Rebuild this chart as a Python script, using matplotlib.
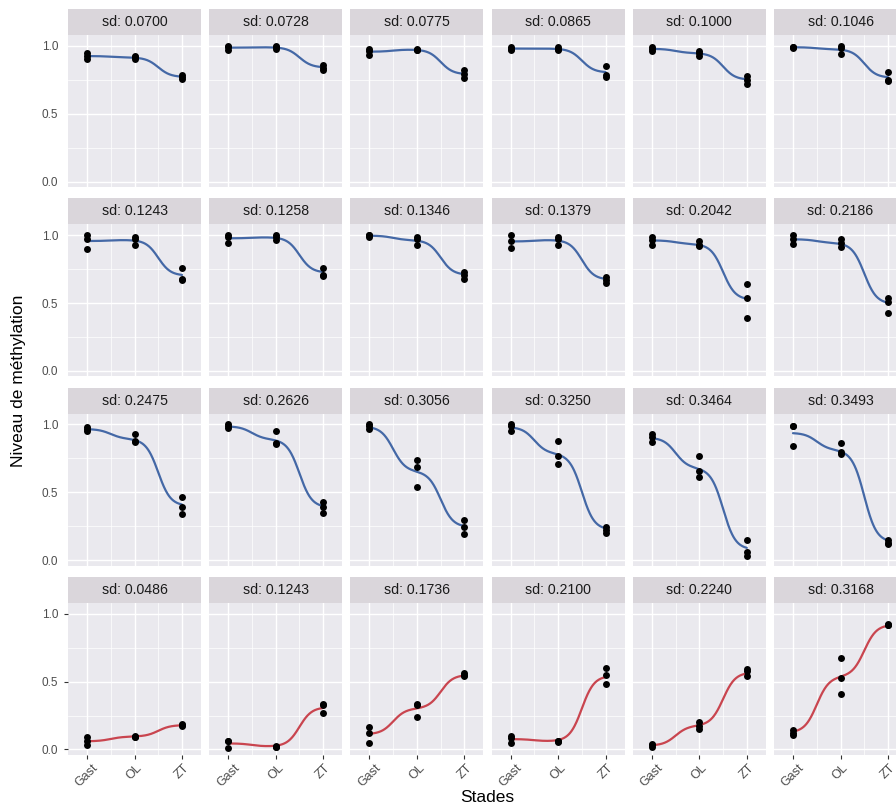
import numpy as np
import matplotlib
matplotlib.use("Agg")
import matplotlib.pyplot as plt
from matplotlib.ticker import FixedLocator

plt.rcParams["font.family"] = ["Liberation Sans", "DejaVu Sans"]

# ---- data ---------------------------------------------------------------
stages = ["Gast", "OL", "ZT"]
stage_pos = [1, 2, 3]

sd_labels = [
    "0.0700", "0.0728", "0.0775", "0.0865", "0.1000", "0.1046",
    "0.1243", "0.1258", "0.1346", "0.1379", "0.2042", "0.2186",
    "0.2475", "0.2626", "0.3056", "0.3250", "0.3464", "0.3493",
    "0.0486", "0.1243", "0.1736", "0.2100", "0.2240", "0.3168",
]

# three replicate methylation levels per stage and per site
gast = [
    [0.945, 0.925, 0.905], [1.00, 0.99, 0.97], [0.98, 0.96, 0.93],
    [0.99, 0.98, 0.97], [0.99, 0.98, 0.965], [0.995, 0.99, 0.985],
    [1.00, 0.975, 0.895], [1.00, 0.99, 0.94], [1.00, 1.00, 0.99],
    [1.00, 0.955, 0.905], [0.99, 0.965, 0.93], [1.00, 0.975, 0.935],
    [0.98, 0.965, 0.955], [1.00, 0.985, 0.975], [1.00, 0.985, 0.97],
    [1.00, 0.99, 0.955], [0.93, 0.91, 0.87], [0.99, 0.985, 0.84],
    [0.09, 0.06, 0.03], [0.065, 0.06, 0.01], [0.165, 0.12, 0.05],
    [0.10, 0.085, 0.045], [0.04, 0.03, 0.015], [0.145, 0.12, 0.105],
]
ol = [
    [0.925, 0.915, 0.905], [1.00, 0.99, 0.98], [0.98, 0.97, 0.97],
    [0.99, 0.98, 0.97], [0.965, 0.95, 0.925], [1.00, 0.985, 0.94],
    [0.99, 0.975, 0.93], [1.00, 0.99, 0.965], [0.985, 0.975, 0.93],
    [0.99, 0.975, 0.93], [0.955, 0.93, 0.92], [0.975, 0.94, 0.915],
    [0.93, 0.88, 0.87], [0.95, 0.865, 0.855], [0.735, 0.685, 0.54],
    [0.88, 0.77, 0.705], [0.765, 0.66, 0.61], [0.86, 0.795, 0.78],
    [0.10, 0.095, 0.09], [0.025, 0.02, 0.02], [0.335, 0.33, 0.24],
    [0.065, 0.06, 0.055], [0.205, 0.17, 0.15], [0.675, 0.525, 0.41],
]
zt = [
    [0.785, 0.77, 0.755], [0.86, 0.84, 0.82], [0.82, 0.79, 0.76],
    [0.855, 0.785, 0.77], [0.78, 0.75, 0.72], [0.81, 0.745, 0.74],
    [0.755, 0.68, 0.67], [0.76, 0.71, 0.70], [0.73, 0.71, 0.68],
    [0.695, 0.67, 0.65], [0.64, 0.54, 0.39], [0.54, 0.51, 0.43],
    [0.465, 0.395, 0.34], [0.43, 0.39, 0.345], [0.295, 0.245, 0.19],
    [0.245, 0.225, 0.20], [0.145, 0.06, 0.03], [0.145, 0.13, 0.12],
    [0.19, 0.18, 0.17], [0.335, 0.33, 0.27], [0.56, 0.55, 0.54],
    [0.60, 0.55, 0.48], [0.59, 0.575, 0.54], [0.925, 0.92, 0.915],
]
trend = ["down"] * 18 + ["up"] * 6

y_ticks = [0.0, 0.5, 1.0]
y_ticklabels = ["0.0", "0.5", "1.0"]

# ---- styling --------------------------------------------------------------
W, H = 896, 807
PANEL_BG = "#EAE9EE"
STRIP_BG = "#DAD6DB"
LINE_COL = {"down": "#4468A6", "up": "#C9454F"}
TEXT_GREY = "#4D4D4D"

col_left = [68 + 141.2 * i for i in range(6)]
row_top = [35 + 189.3 * j for j in range(4)]
panel_w, panel_h, strip_h = 133, 152, 26


def frac(x, y, w, h):
    return [x / W, 1 - (y + h) / H, w / W, h / H]


def kernel_smooth(x, y, grid, bw=0.36):
    w = np.exp(-0.5 * ((grid[:, None] - x[None, :]) / bw) ** 2)
    return (w * y[None, :]).sum(axis=1) / w.sum(axis=1)


fig = plt.figure(figsize=(W / 100, H / 100), dpi=100)
fig.patch.set_facecolor("white")

grid = np.linspace(1, 3, 200)

for k in range(24):
    r, c = divmod(k, 6)
    x0, y0 = col_left[c], row_top[r]
    ax = fig.add_axes(frac(x0, y0, panel_w, panel_h))
    ax.set_facecolor(PANEL_BG)
    for s in ax.spines.values():
        s.set_visible(False)

    xs = np.repeat(stage_pos, 3).astype(float)
    ys = np.array(gast[k] + ol[k] + zt[k], dtype=float)

    ax.set_xlim(0.6, 3.4)
    ax.set_ylim(-0.04, 1.08)
    ax.xaxis.set_major_locator(FixedLocator(stage_pos))
    ax.xaxis.set_minor_locator(FixedLocator([1.5, 2.5]))
    ax.yaxis.set_major_locator(FixedLocator(y_ticks))
    ax.yaxis.set_minor_locator(FixedLocator([0.25, 0.75]))
    ax.grid(which="major", color="white", lw=1.0)
    ax.grid(which="minor", color="white", lw=0.5)
    ax.set_axisbelow(True)
    ax.tick_params(which="minor", length=0)

    ax.plot(grid, kernel_smooth(xs, ys, grid), color=LINE_COL[trend[k]],
            lw=1.6, zorder=3, solid_capstyle="round")
    ax.scatter(xs, ys, s=25, color="black", zorder=4, linewidths=0)

    bottom = r == 3
    if c == 0:
        ax.set_yticks(y_ticks)
        ax.set_yticklabels(y_ticklabels)
        ax.tick_params(axis="y", labelsize=8.5, labelcolor=TEXT_GREY,
                       color="#333333", length=3 if bottom else 0,
                       pad=4 if bottom else 7, width=0.8)
    else:
        ax.tick_params(axis="y", length=0, labelleft=False)
    if bottom:
        ax.set_xticks(stage_pos)
        ax.set_xticklabels(stages, rotation=45, ha="center", va="top")
        ax.tick_params(axis="x", labelsize=9, labelcolor=TEXT_GREY,
                       color="#333333", length=3, pad=2, width=0.8)
    else:
        ax.tick_params(axis="x", length=0, labelbottom=False)

    sax = fig.add_axes(frac(x0, y0 - strip_h, panel_w, strip_h))
    sax.set_facecolor(STRIP_BG)
    sax.set_xticks([])
    sax.set_yticks([])
    for s in sax.spines.values():
        s.set_visible(False)
    sax.text(0.5, 0.5, "sd: " + sd_labels[k], ha="center", va="center",
             fontsize=10.2, color="#1A1A1A", transform=sax.transAxes)

fig.text(487 / W, 1 - 797 / H, "Stades", ha="center", va="center",
         fontsize=12.5, color="black")
fig.text(18 / W, 1 - 381 / H, "Niveau de méthylation", ha="center",
         va="center", rotation=90, fontsize=12.5, color="black")

fig.savefig("out.png", dpi=100)
